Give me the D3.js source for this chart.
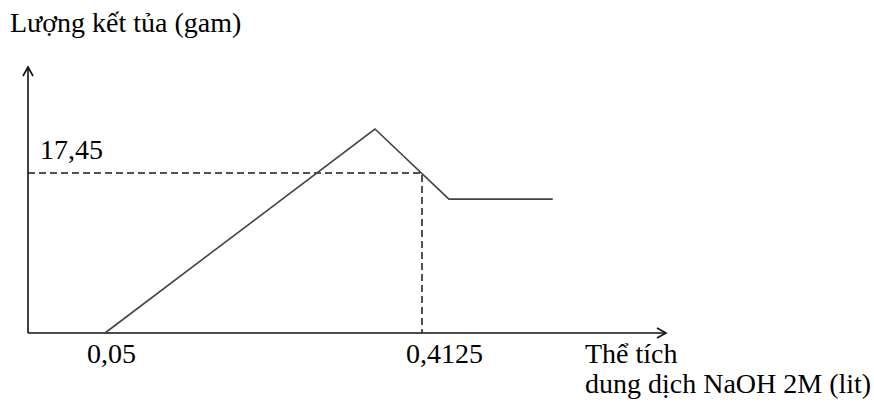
<!DOCTYPE html>
<html>
<head>
<meta charset="utf-8">
<script src="https://cdn.jsdelivr.net/npm/d3@7"></script>
<style>
  body { margin: 0; background: #fff; }
  text { font-family: "Liberation Serif", "Times New Roman", serif; fill: #000; }
</style>
</head>
<body>
<div id="chart"></div>
<script>
// curve points (volume NaOH in L, precipitate in g)
const volumes = [0.05, 0.3587, 0.4433, 0.562];
const masses = [0, 22.25, 14.6, 14.6];

// marked point on the falling branch
const markVolume = 0.4125;
const markMass = 17.45;

const xTickValues = [0.05, 0.4125];
const xTickLabels = ["0,05", "0,4125"];
const yTickLabel = "17,45";

const yTitle = "Lượng kết tủa (gam)";
const xTitle = ["Thể tích", "dung dịch NaOH 2M (lit)"];

const width = 874, height = 402;
const origin = { x: 28, y: 333 };
const axisEnd = { x: 666, y: 67 };
const fontSize = "28px";

const svg = d3.select("#chart")
  .append("svg")
    .attr("width", width)
    .attr("height", height);

const x = d3.scaleLinear()
  .domain([0.05, 0.4125])
  .range([105, 422]);

const y = d3.scaleLinear()
  .domain([0, 17.45])
  .range([origin.y, 173]);

// axes with open arrow heads
const axes = svg.append("g")
  .attr("stroke", "#111")
  .attr("stroke-width", 1.6)
  .attr("fill", "none");

axes.append("path")
  .attr("d", `M${origin.x},${origin.y}H${axisEnd.x}`);
axes.append("path")
  .attr("d", `M${axisEnd.x - 9},${origin.y - 5}L${axisEnd.x},${origin.y}L${axisEnd.x - 9},${origin.y + 5}`);

axes.append("path")
  .attr("d", `M${origin.x},${origin.y}V${axisEnd.y}`);
axes.append("path")
  .attr("d", `M${origin.x - 5},${axisEnd.y + 9}L${origin.x},${axisEnd.y}L${origin.x + 5},${axisEnd.y + 9}`);

// dashed guides to the marked point
svg.append("path")
  .attr("d", `M${origin.x},${y(markMass)}H${x(markVolume)}V${origin.y}`)
  .attr("fill", "none")
  .attr("stroke", "#1a1a1a")
  .attr("stroke-width", 1.5)
  .attr("stroke-dasharray", "7,4");

// the curve
const line = d3.line()
  .x((d, i) => x(volumes[i]))
  .y((d, i) => y(masses[i]));

svg.append("path")
  .datum(volumes)
  .attr("d", line)
  .attr("fill", "none")
  .attr("stroke", "#444")
  .attr("stroke-width", 1.6);

// labels
svg.append("text")
  .attr("x", 10)
  .attr("y", 32)
  .style("font-size", fontSize)
  .text(yTitle);

svg.append("text")
  .attr("x", 40)
  .attr("y", y(markMass) - 14)
  .style("font-size", fontSize)
  .text(yTickLabel);

const tickOffsets = [-18, -16];
svg.selectAll("text.xtick")
  .data(xTickValues)
  .enter()
  .append("text")
    .attr("class", "xtick")
    .attr("x", (d, i) => x(d) + tickOffsets[i])
    .attr("y", 363)
    .style("font-size", fontSize)
    .text((d, i) => xTickLabels[i]);

svg.selectAll("text.xtitle")
  .data(xTitle)
  .enter()
  .append("text")
    .attr("class", "xtitle")
    .attr("x", 585)
    .attr("y", (d, i) => 363 + i * 30)
    .style("font-size", fontSize)
    .text(d => d);
</script>
</body>
</html>
